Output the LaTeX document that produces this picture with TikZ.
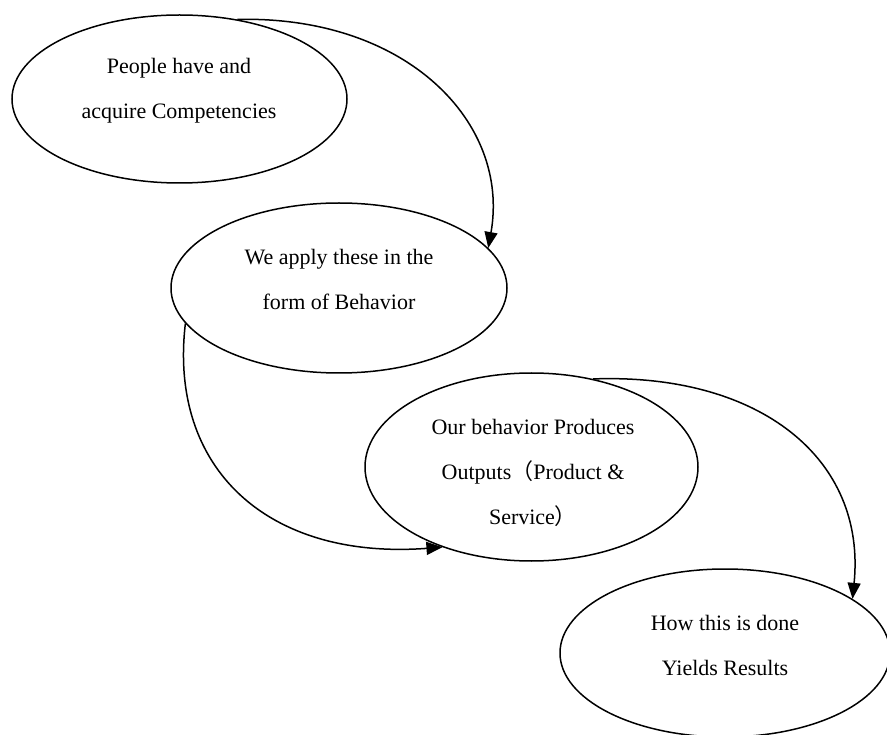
\documentclass[tikz,border=0pt]{standalone}
\usepackage{fontspec}
\setmainfont{Liberation Serif}
\newfontfamily\cjkfont{Noto Sans CJK SC}
\usetikzlibrary{shapes.geometric,arrows.meta}
\begin{document}
\begin{tikzpicture}[x=1pt,y=-1pt,
  oval/.style={draw=black,line width=1.5pt,ellipse,inner sep=0pt},
  lbl/.style={align=center,font=\fontsize{22}{45}\selectfont,inner sep=0pt},
  conn/.style={draw=black,line width=1.5pt,-{Triangle[length=16pt,width=13pt]}}]
\useasboundingbox (0,0) rectangle (887,735);
\clip (0,0) rectangle (887,735);
\node[oval,minimum width=335pt,minimum height=168pt] (e1) at (179.5,99) {};
\node[oval,minimum width=336pt,minimum height=170pt] (e2) at (339,288) {};
\node[oval,minimum width=333pt,minimum height=188pt] (e3) at (531.5,467) {};
\node[oval,minimum width=330pt,minimum height=168pt] (e4) at (725,653) {};
\node[lbl] (t1) at (179,90.5) {People have and\\acquire Competencies};
\node[lbl] (t2) at (339,279.5) {We apply these in the\\form of Behavior};
\node[lbl] (t3) at (533,473) {Our behavior Produces\\Outputs{\cjkfont （}Product \&\\Service{\cjkfont ）}};
\node[lbl] (t4) at (725,645) {How this is done\\Yields Results};
\draw[conn] (e1.54.6) .. controls +(170,-4) and +(22,-125) .. (e2.15.4);
\draw[conn] (e2.193.7) .. controls +(-17,145) and +(-175,13) .. (e3.222.8);
\draw[conn] (e3.55.9) .. controls +(167,-6) and +(14,-140) .. (e4.23.3);
\end{tikzpicture}
\end{document}
